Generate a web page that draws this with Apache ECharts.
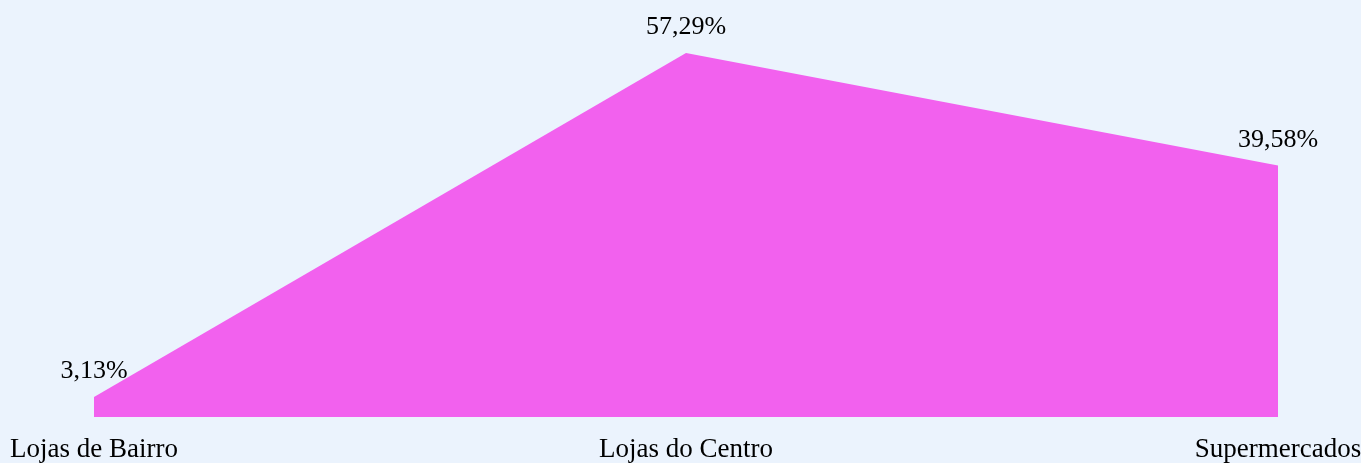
<!DOCTYPE html>
<html><head><meta charset="utf-8">
<script src="https://cdn.jsdelivr.net/npm/echarts@6/dist/echarts.min.js"></script>
<style>html,body{margin:0;padding:0;background:#EBF3FD}#c{width:1361px;height:463px}</style>
</head><body><div id="c"></div>
<script>
var categories = ['Lojas de Bairro', 'Lojas do Centro', 'Supermercados'];
var values = [3.13, 57.29, 39.58];
var chart = echarts.init(document.getElementById('c'));
chart.setOption({
  backgroundColor: '#EBF3FD',
  animation: false,
  grid: {left: 94, right: 83, top: 53, bottom: 46, containLabel: false, outerBoundsMode: 'none'},
  xAxis: {
    type: 'category', data: categories, boundaryGap: false,
    axisLine: {show: false}, axisTick: {show: false}, splitLine: {show: false},
    axisLabel: {color: '#000', fontFamily: 'Liberation Serif', fontSize: 27, margin: 19}
  },
  yAxis: {type: 'value', min: 0, max: 57.29, show: false, splitLine: {show: false}},
  series: [{
    type: 'line', data: values, symbol: 'circle', symbolSize: 1, showSymbol: true,
    itemStyle: {color: 'rgba(0,0,0,0)'},
    lineStyle: {width: 0, color: '#F261EE'}, areaStyle: {color: '#F261EE', opacity: 1},
    label: {show: true, position: 'top', distance: 12, color: '#000', fontFamily: 'Liberation Serif', fontSize: 26,
      formatter: function(p){ return p.value.toFixed(2).replace('.', ',') + '%'; }}
  }]
});
</script></body></html>
